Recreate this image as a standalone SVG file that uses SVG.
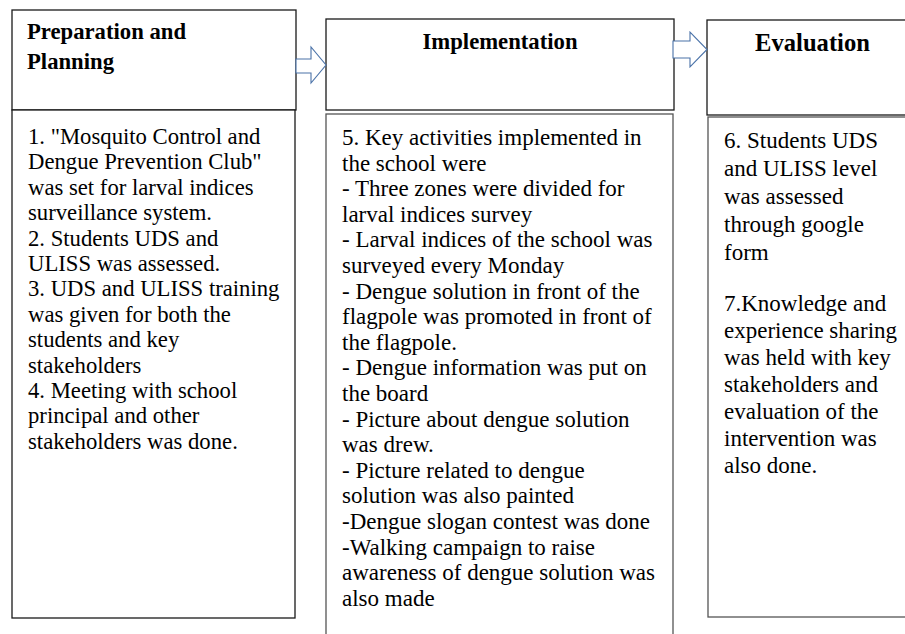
<svg xmlns="http://www.w3.org/2000/svg" width="905" height="634" viewBox="0 0 905 634">
  <style>
    .box { fill: #ffffff; stroke: #1a1a1a; stroke-width: 1.3; }
    .soft { stroke: #555555; }
    .arrow { fill: #ffffff; stroke: #4a72a8; stroke-width: 1.1; stroke-linejoin: miter; }
    .head { font-weight: bold; font-size: 22.7px; fill: #000000; }
    .body { font-size: 23px; fill: #000000; }
  </style>
  <rect width="905" height="634" fill="#ffffff"/>

  <!-- Stage 1 -->
  <g id="preparation" font-family="Liberation Serif, Times New Roman, serif">
    <rect class="box" x="12" y="10" width="284" height="100"/>
    <rect class="box" x="12" y="110" width="283" height="508"/>
    <text class="head" x="27" y="39">Preparation and</text>
    <text class="head" x="27" y="69">Planning</text>
    <text class="body" style="font-size:22.7px">
      <tspan x="28" y="144">1. "Mosquito Control and</tspan>
      <tspan x="28" y="169.4">Dengue Prevention Club"</tspan>
      <tspan x="28" y="194.8">was set for larval indices</tspan>
      <tspan x="28" y="220.2">surveillance system.</tspan>
      <tspan x="28" y="245.6">2. Students UDS and</tspan>
      <tspan x="28" y="271">ULISS was assessed.</tspan>
      <tspan x="28" y="296.4">3. UDS and ULISS training</tspan>
      <tspan x="28" y="321.8">was given for both the</tspan>
      <tspan x="28" y="347.2">students and key</tspan>
      <tspan x="28" y="372.6">stakeholders</tspan>
      <tspan x="28" y="398">4. Meeting with school</tspan>
      <tspan x="28" y="423.4">principal and other</tspan>
      <tspan x="28" y="448.8">stakeholders was done.</tspan>
    </text>
  </g>

  <!-- Stage 2 -->
  <g id="implementation" font-family="Liberation Serif, Times New Roman, serif">
    <rect class="box" x="326" y="19" width="348" height="91"/>
    <rect class="box soft" x="326" y="114" width="347" height="540"/>
    <text class="head" x="500" y="49" text-anchor="middle">Implementation</text>
    <text class="body">
      <tspan x="342" y="145">5. Key activities implemented in</tspan>
      <tspan x="342" y="170.6">the school were</tspan>
      <tspan x="342" y="196.2">- Three zones were divided for</tspan>
      <tspan x="342" y="221.8">larval indices survey</tspan>
      <tspan x="342" y="247.4">- Larval indices of the school was</tspan>
      <tspan x="342" y="273">surveyed every Monday</tspan>
      <tspan x="342" y="298.6">- Dengue solution in front of the</tspan>
      <tspan x="342" y="324.2">flagpole was promoted in front of</tspan>
      <tspan x="342" y="349.8">the flagpole.</tspan>
      <tspan x="342" y="375.4">- Dengue information was put on</tspan>
      <tspan x="342" y="401">the board</tspan>
      <tspan x="342" y="426.6">- Picture about dengue solution</tspan>
      <tspan x="342" y="452.2">was drew.</tspan>
      <tspan x="342" y="477.8">- Picture related to dengue</tspan>
      <tspan x="342" y="503.4">solution was also painted</tspan>
      <tspan x="342" y="529">-Dengue slogan contest was done</tspan>
      <tspan x="342" y="554.6">-Walking campaign to raise</tspan>
      <tspan x="342" y="580.2">awareness of dengue solution was</tspan>
      <tspan x="342" y="605.8">also made</tspan>
    </text>
  </g>

  <!-- Stage 3 -->
  <g id="evaluation" font-family="Liberation Serif, Times New Roman, serif">
    <rect class="box" x="707" y="20" width="210" height="95"/>
    <rect class="box soft" x="708" y="117" width="210" height="500"/>
    <text class="head" x="812.5" y="51" text-anchor="middle" style="font-size:24.6px">Evaluation</text>
    <text class="body">
      <tspan x="724" y="148">6. Students UDS</tspan>
      <tspan x="724" y="176">and ULISS level</tspan>
      <tspan x="724" y="204">was assessed</tspan>
      <tspan x="724" y="232">through google</tspan>
      <tspan x="724" y="260">form</tspan>
      <tspan x="724" y="311">7.Knowledge and</tspan>
      <tspan x="724" y="338">experience sharing</tspan>
      <tspan x="724" y="365">was held with key</tspan>
      <tspan x="724" y="392">stakeholders and</tspan>
      <tspan x="724" y="419">evaluation of the</tspan>
      <tspan x="724" y="446">intervention was</tspan>
      <tspan x="724" y="473">also done.</tspan>
    </text>
  </g>

  <!-- Block arrows between stages -->
  <g id="connectors">
    <polygon class="arrow" points="296,59 311,59 311,47 326,65 311,83 311,73 296,73"/>
    <polygon class="arrow" points="673,41 690,41 690,32 707,49.5 690,67 690,58 673,58"/>
  </g>
</svg>
